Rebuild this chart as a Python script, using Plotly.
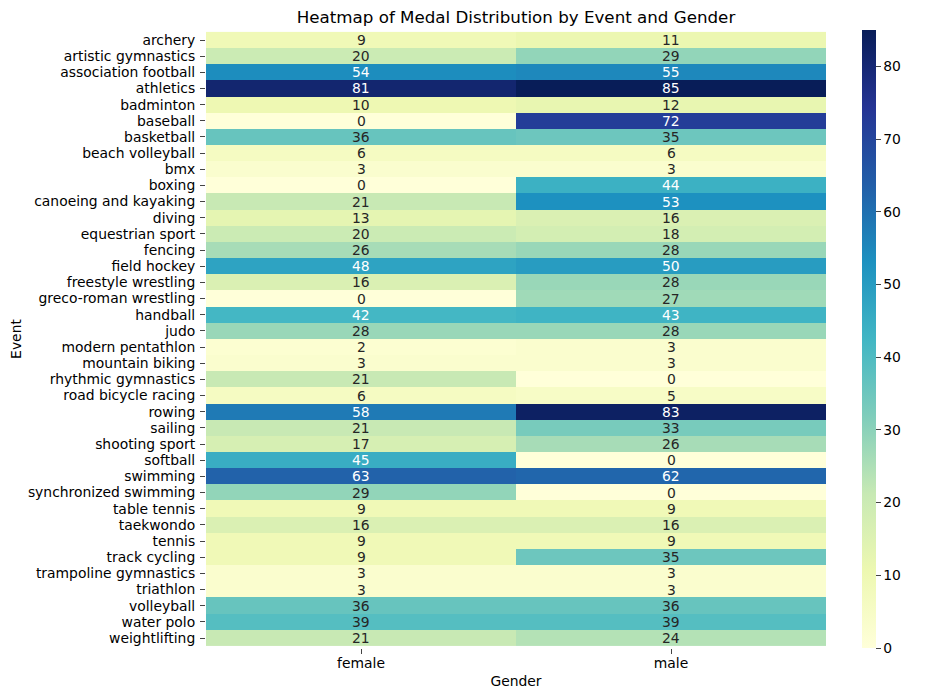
import plotly.graph_objects as go

events = ["archery", "artistic gymnastics", "association football", "athletics", "badminton",
          "baseball", "basketball", "beach volleyball", "bmx", "boxing",
          "canoeing and kayaking", "diving", "equestrian sport", "fencing", "field hockey",
          "freestyle wrestling", "greco-roman wrestling", "handball", "judo", "modern pentathlon",
          "mountain biking", "rhythmic gymnastics", "road bicycle racing", "rowing", "sailing",
          "shooting sport", "softball", "swimming", "synchronized swimming", "table tennis",
          "taekwondo", "tennis", "track cycling", "trampoline gymnastics", "triathlon",
          "volleyball", "water polo", "weightlifting"]
genders = ["female", "male"]

female = [9, 20, 54, 81, 10, 0, 36, 6, 3, 0,
          21, 13, 20, 26, 48, 16, 0, 42, 28, 2,
          3, 21, 6, 58, 21, 17, 45, 63, 29, 9,
          16, 9, 9, 3, 3, 36, 39, 21]
male = [11, 29, 55, 85, 12, 72, 35, 6, 3, 44,
        53, 16, 18, 28, 50, 28, 27, 43, 28, 3,
        3, 0, 5, 83, 33, 26, 0, 62, 0, 9,
        16, 9, 35, 3, 3, 36, 39, 24]

z = [[f, m] for f, m in zip(female, male)]
zmax = max(max(female), max(male))

ylgnbu = [[0.0, "#ffffd9"], [0.125, "#edf8b1"], [0.25, "#c7e9b4"], [0.375, "#7fcdbb"],
          [0.5, "#41b6c4"], [0.625, "#1d91c0"], [0.75, "#225ea8"], [0.875, "#253494"],
          [1.0, "#081d58"]]

fs = 13.9  # 10pt at 100 dpi

fig = go.Figure(go.Heatmap(
    z=z, x=genders, y=events, colorscale=ylgnbu, zmin=0, zmax=zmax,
    colorbar=dict(thickness=14, len=1, lenmode="fraction", y=0.5, yanchor="middle",
                  x=1.058, xanchor="left", xpad=0, ypad=0, outlinewidth=0,
                  tickvals=[0, 10, 20, 30, 40, 50, 60, 70, 80], ticks="outside",
                  ticklen=5, tickfont=dict(size=fs, color="black")),
    hoverinfo="x+y+z",
))

# cell labels, light text on dark cells like seaborn
for ev, row in zip(events, z):
    for g, v in zip(genders, row):
        fig.add_annotation(x=g, y=ev, text=str(v), showarrow=False,
                           font=dict(size=fs, color="white" if v > 40 else "#262626"))

# page body has an 8px margin, so the margins are 8px smaller on top/left
fig.update_layout(
    width=933, height=699,
    margin=dict(l=198, r=115, t=22, b=59, autoexpand=False),
    plot_bgcolor="white", paper_bgcolor="white",
    font=dict(family="DejaVu Sans", color="black"),
    title=dict(text="Heatmap of Medal Distribution by Event and Gender", x=0.5, xref="paper",
               xanchor="center", y=1 - 9.5 / 699, yanchor="middle", font=dict(size=16.7)),
    xaxis=dict(title=dict(text="Gender", font=dict(size=fs), standoff=6), ticks="outside",
               ticklen=5, ticklabelstandoff=-3, tickfont=dict(size=fs), showgrid=False,
               zeroline=False, automargin=False, tickmode="array", tickvals=genders),
    yaxis=dict(title=dict(text="Event", font=dict(size=fs), standoff=14), ticks="outside",
               ticklen=5, ticklabelstandoff=2, tickfont=dict(size=fs), autorange="reversed",
               showgrid=False, zeroline=False, automargin=False,
               tickmode="array", tickvals=events),
)

fig.write_html("out.html")
